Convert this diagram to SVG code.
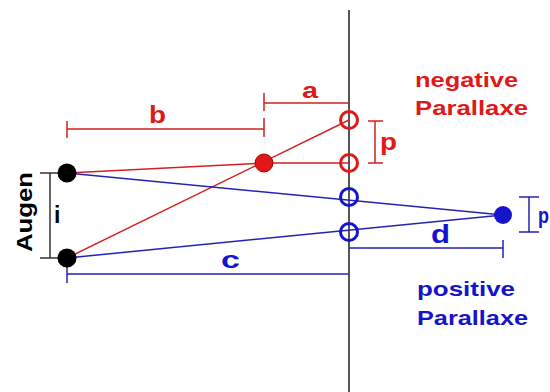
<svg xmlns="http://www.w3.org/2000/svg" width="550" height="392" viewBox="0 0 550 392">
<style>
.t{font-family:"Liberation Sans",Arial,sans-serif;font-weight:bold}
.red{fill:#e01818}
.blue{fill:#1414cc}
.rl{stroke:#d42020;stroke-width:1.5;fill:none}
.bl{stroke:#2424b4;stroke-width:1.5;fill:none}
.kl{stroke:#333;stroke-width:1.5;fill:none}
.ring-r{fill:none;stroke:#e01818;stroke-width:3}
.ring-b{fill:none;stroke:#1414cc;stroke-width:3}
</style>
<rect width="550" height="392" fill="#fff"/>
<g id="screen"><line x1="349" y1="10" x2="349" y2="392" stroke="#444" stroke-width="1.8"/></g>
<g id="connectors">
  <polyline class="rl" points="67,173 264,163 349,163"/>
  <line class="rl" x1="67" y1="258" x2="349" y2="120"/>
  <line class="bl" x1="67" y1="173" x2="503" y2="215"/>
  <line class="bl" x1="67" y1="258" x2="503" y2="215"/>
</g>
<g id="dimensions">
  <path class="rl" d="M67,129H264M67,121V138M264,118V137M264,103H349M264,93V111"/>
  <path class="rl" d="M375,121V163M368,121H383M368,163H383"/>
  <path class="bl" d="M67,258V283M67,274H349M349,248H503M503,240V258"/>
  <path class="bl" d="M529,197V232M519,197H539M519,232H539"/>
  <path class="kl" d="M50,173V258M40,173H60M40,258H60"/>
</g>
<g id="eye-top"><circle cx="67" cy="173" r="9.5" fill="#000"/></g>
<g id="eye-bottom"><circle cx="67" cy="258" r="9.5" fill="#000"/></g>
<g id="red-point"><circle cx="264" cy="163" r="9" fill="#e01818" stroke="#a00" stroke-width="1"/></g>
<g id="ring-red-1"><circle class="ring-r" cx="349" cy="120" r="8.5"/></g>
<g id="ring-red-2"><circle class="ring-r" cx="349" cy="163" r="8.5"/></g>
<g id="ring-blue-1"><circle class="ring-b" cx="349" cy="197" r="8.5"/></g>
<g id="ring-blue-2"><circle class="ring-b" cx="349" cy="232" r="8.5"/></g>
<g id="blue-point"><circle cx="503" cy="215" r="9" fill="#1414cc"/></g>
<g id="labels">
  <text class="t red" x="415" y="87" font-size="21" textLength="103" lengthAdjust="spacingAndGlyphs">negative</text>
  <text class="t red" x="415" y="115" font-size="21" textLength="113" lengthAdjust="spacingAndGlyphs">Parallaxe</text>
  <text class="t blue" x="417" y="296" font-size="21" textLength="98" lengthAdjust="spacingAndGlyphs">positive</text>
  <text class="t blue" x="417" y="325" font-size="21" textLength="111" lengthAdjust="spacingAndGlyphs">Parallaxe</text>
  <text class="t red" x="302" y="98" font-size="22" textLength="16" lengthAdjust="spacingAndGlyphs">a</text>
  <text class="t red" x="149" y="123" font-size="24" textLength="17" lengthAdjust="spacingAndGlyphs">b</text>
  <text class="t red" x="380" y="150" font-size="24" textLength="17" lengthAdjust="spacingAndGlyphs">p</text>
  <text class="t blue" x="538" y="223" font-size="22" textLength="11" lengthAdjust="spacingAndGlyphs">p</text>
  <text class="t blue" x="431" y="243" font-size="25" textLength="19" lengthAdjust="spacingAndGlyphs">d</text>
  <text class="t blue" x="221" y="268" font-size="24" textLength="19" lengthAdjust="spacingAndGlyphs">c</text>
  <text class="t" x="54" y="223" font-size="23" fill="#000">i</text>
  <text class="t" x="0" y="0" font-size="22" fill="#000" text-anchor="middle" textLength="80" lengthAdjust="spacingAndGlyphs" transform="translate(32,212) rotate(-90)">Augen</text>
</g>
</svg>
